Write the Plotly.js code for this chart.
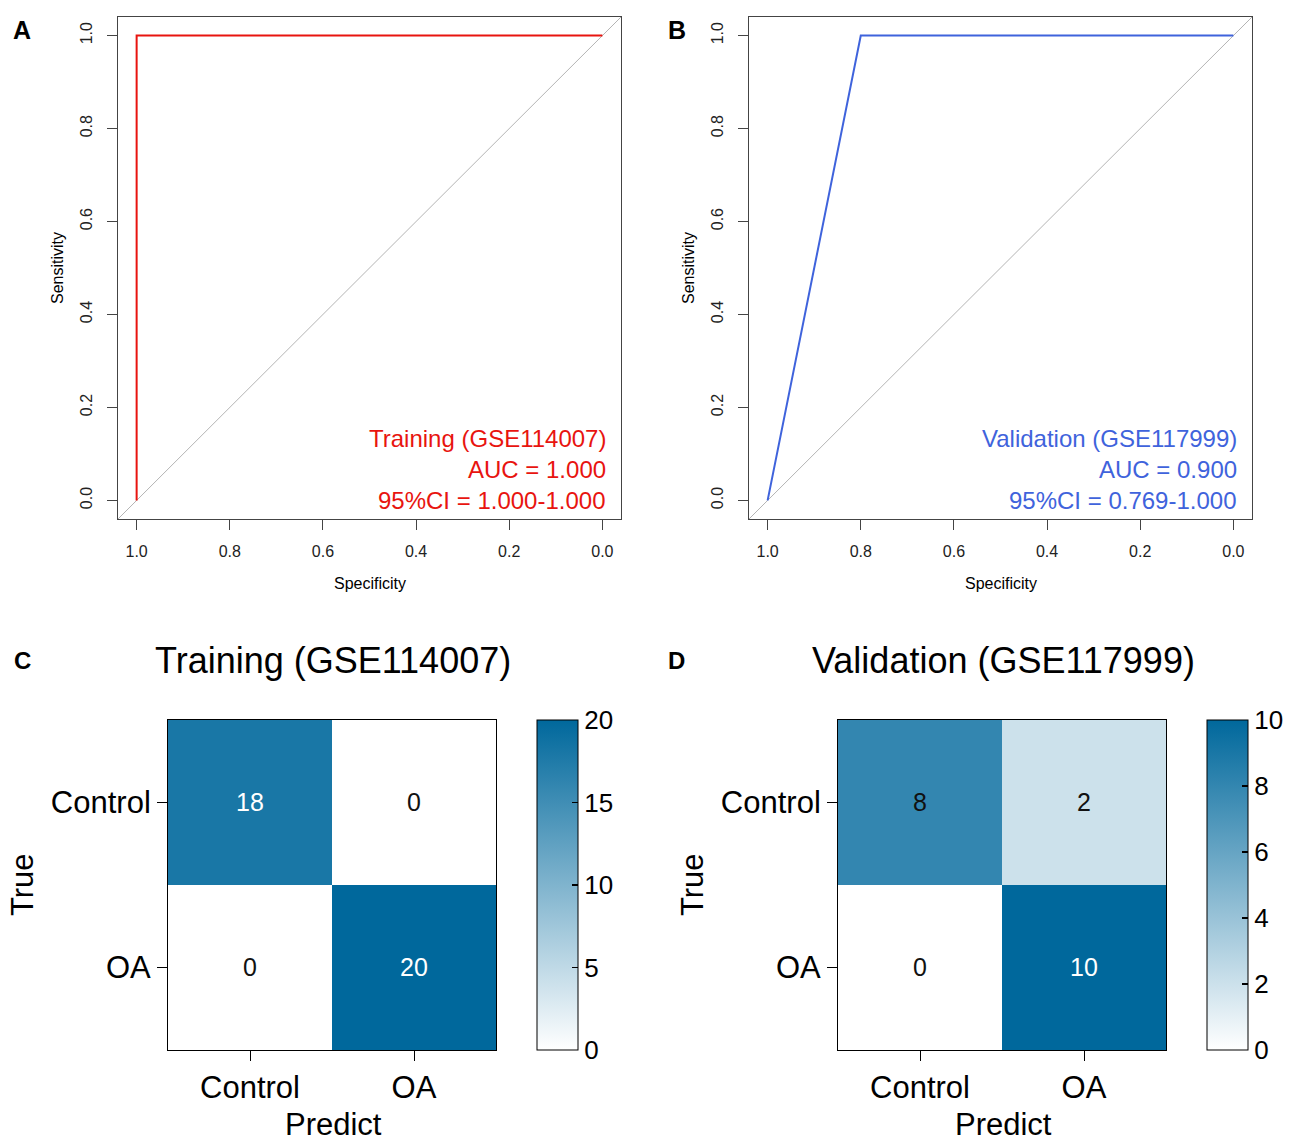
<!DOCTYPE html>
<html>
<head>
<meta charset="utf-8">
<script src="https://cdn.plot.ly/plotly-3.0.1.min.js"></script>
<style>html,body{margin:0;padding:0;background:#fff}#chart{width:1294px;height:1142px}</style>
</head>
<body>
<div id="chart"></div>
<script>
// ROC data (specificity, sensitivity)
const trainSpec = [1.0, 1.0, 0.0];
const trainSens = [0.0, 1.0, 1.0];
const validSpec = [1.0, 0.8, 0.0];
const validSens = [0.0, 1.0, 1.0];
const diagSpec = [1.04, -0.04];
const diagSens = [-0.04, 1.04];
const trainLabel = ["Training (GSE114007)", "AUC = 1.000", "95%CI = 1.000-1.000"];
const validLabel = ["Validation (GSE117999)", "AUC = 0.900", "95%CI = 0.769-1.000"];
const rocTicks = [0, 0.2, 0.4, 0.6, 0.8, 1.0];

// Confusion matrices
const classes = ["Control", "OA"];
const trainCM = [[18, 0], [0, 20]];
const validCM = [[8, 2], [0, 10]];
const trainMax = 20, validMax = 10;
const trainCbTicks = [0, 5, 10, 15, 20];
const validCbTicks = [0, 2, 4, 6, 8, 10];

const FONT = "Liberation Sans, Arial, Helvetica, sans-serif";
const W = 1294, H = 1142;
const px = x => x / W;
const py = y => 1 - y / H;

const red = "#e8140f";
const blue = "#3f63dc";
const scale = [[0, "#ffffff"], [1, "#00689c"]];

function cbar(x0, ticks) {
  return {x: px(x0), xanchor: "left", xpad: 0, ypad: 0, y: py(885), yanchor: "middle",
    thickness: 41, thicknessmode: "pixels", len: 330, lenmode: "pixels",
    outlinecolor: "#000", outlinewidth: 1, tickvals: ticks, ticks: "inside", ticklen: 6,
    tickprefix: "\u00a0",
    tickcolor: "#000", tickwidth: 1.2, tickfont: {family: FONT, size: 26, color: "#000"}};
}

const traces = [
  {x: diagSpec, y: diagSens, xaxis: "x", yaxis: "y", mode: "lines", line: {color: "#b4b4b4", width: 1}, hoverinfo: "skip"},
  {x: trainSpec, y: trainSens, xaxis: "x", yaxis: "y", mode: "lines", line: {color: red, width: 2}},
  {x: diagSpec, y: diagSens, xaxis: "x2", yaxis: "y2", mode: "lines", line: {color: "#b4b4b4", width: 1}, hoverinfo: "skip"},
  {x: validSpec, y: validSens, xaxis: "x2", yaxis: "y2", mode: "lines", line: {color: blue, width: 2}},
  {type: "heatmap", x: classes, y: classes, z: trainCM, xaxis: "x3", yaxis: "y3", zmin: 0, zmax: trainMax,
   colorscale: scale, colorbar: cbar(537, trainCbTicks)},
  {type: "heatmap", x: classes, y: classes, z: validCM, xaxis: "x4", yaxis: "y4", zmin: 0, zmax: validMax,
   colorscale: scale, colorbar: cbar(1207, validCbTicks)}
];

function rocX(domain) {
  return {domain: domain, range: [1.04, -0.04], tickvals: rocTicks, tickformat: ".1f",
    showgrid: false, zeroline: false, showline: true, mirror: true, linecolor: "#444", linewidth: 1.2,
    ticks: "outside", ticklen: 10, tickcolor: "#444", ticklabelstandoff: 8,
    tickfont: {family: FONT, size: 16, color: "#222"}};
}
function rocY(domain, anchor) {
  return {domain: domain, range: [-0.04, 1.04], tickvals: rocTicks, tickformat: ".1f", tickangle: -90,
    showgrid: false, zeroline: false, showline: true, mirror: true, linecolor: "#444", linewidth: 1.2,
    ticks: "outside", ticklen: 10, tickcolor: "#444", ticklabelstandoff: 8,
    tickfont: {family: FONT, size: 16, color: "#222"}, anchor: anchor};
}
function cmX(domain, anchor) {
  return {domain: domain, anchor: anchor, type: "category", showgrid: false, zeroline: false, showline: true, mirror: true,
    linecolor: "#000", linewidth: 1, ticks: "outside", ticklen: 10, tickcolor: "#000",
    tickfont: {family: FONT, size: 31, color: "#000"}};
}
function cmY(domain, anchor) {
  return {domain: domain, anchor: anchor, type: "category", autorange: "reversed", showgrid: false, zeroline: false,
    showline: true, mirror: true, linecolor: "#000", linewidth: 1, ticks: "outside", ticklen: 10, tickcolor: "#000",
    tickfont: {family: FONT, size: 31, color: "#000"}};
}

const annotations = [];
function txt(text, x, y, size, opts) {
  annotations.push(Object.assign({text: text, x: px(x), y: py(y), xref: "paper", yref: "paper",
    showarrow: false, xanchor: "center", yanchor: "middle",
    font: {family: FONT, size: size, color: "#000"}}, opts || {}));
}
// panel letters
txt("<b>A</b>", 22, 30, 25);
txt("<b>B</b>", 677, 30, 25);
txt("<b>C</b>", 22, 660, 24);
txt("<b>D</b>", 677, 660, 24);
// ROC axis titles
txt("Sensitivity", 57, 268, 16, {textangle: -90});
txt("Sensitivity", 688, 268, 16, {textangle: -90});
txt("Specificity", 370, 583, 16);
txt("Specificity", 1001, 583, 16);
// ROC legends
const legY = [438, 469, 500];
trainLabel.forEach((t, i) => txt(t, 608, legY[i], 24, {xanchor: "right", font: {family: FONT, size: 24, color: red}}));
validLabel.forEach((t, i) => txt(t, 1239, legY[i], 24, {xanchor: "right", font: {family: FONT, size: 24, color: blue}}));
// CM titles
txt(trainLabel[0], 333, 660, 36);
txt(validLabel[0], 1003, 660, 36);
txt("True", 22, 885, 31, {textangle: -90});
txt("True", 692, 885, 31, {textangle: -90});
txt("Predict", 333, 1124, 31);
txt("Predict", 1003, 1124, 31);
// cell values
function cells(cm, zmax, xa, ya) {
  cm.forEach((row, i) => row.forEach((v, j) => {
    annotations.push({text: String(v), x: classes[j], y: classes[i], xref: xa, yref: ya, showarrow: false,
      font: {family: FONT, size: 25, color: v / zmax > 0.85 ? "#ffffff" : "#111111"}});
  }));
}
cells(trainCM, trainMax, "x3", "y3");
cells(validCM, validMax, "x4", "y4");

const layout = {
  width: W, height: H, margin: {l: 0, r: 0, t: 0, b: 0},
  paper_bgcolor: "#fff", plot_bgcolor: "#fff", showlegend: false,
  font: {family: FONT},
  xaxis: Object.assign(rocX([px(118), px(621)]), {anchor: "y"}),
  yaxis: rocY([py(519), py(17)], "x"),
  xaxis2: Object.assign(rocX([px(749), px(1252)]), {anchor: "y2"}),
  yaxis2: rocY([py(519), py(17)], "x2"),
  xaxis3: cmX([px(168), px(496)], "y3"),
  yaxis3: cmY([py(1050), py(720)], "x3"),
  xaxis4: cmX([px(838), px(1166)], "y4"),
  yaxis4: cmY([py(1050), py(720)], "x4"),
  annotations: annotations
};

Plotly.newPlot("chart", traces, layout, {staticPlot: true, displayModeBar: false});
</script>
</body>
</html>
